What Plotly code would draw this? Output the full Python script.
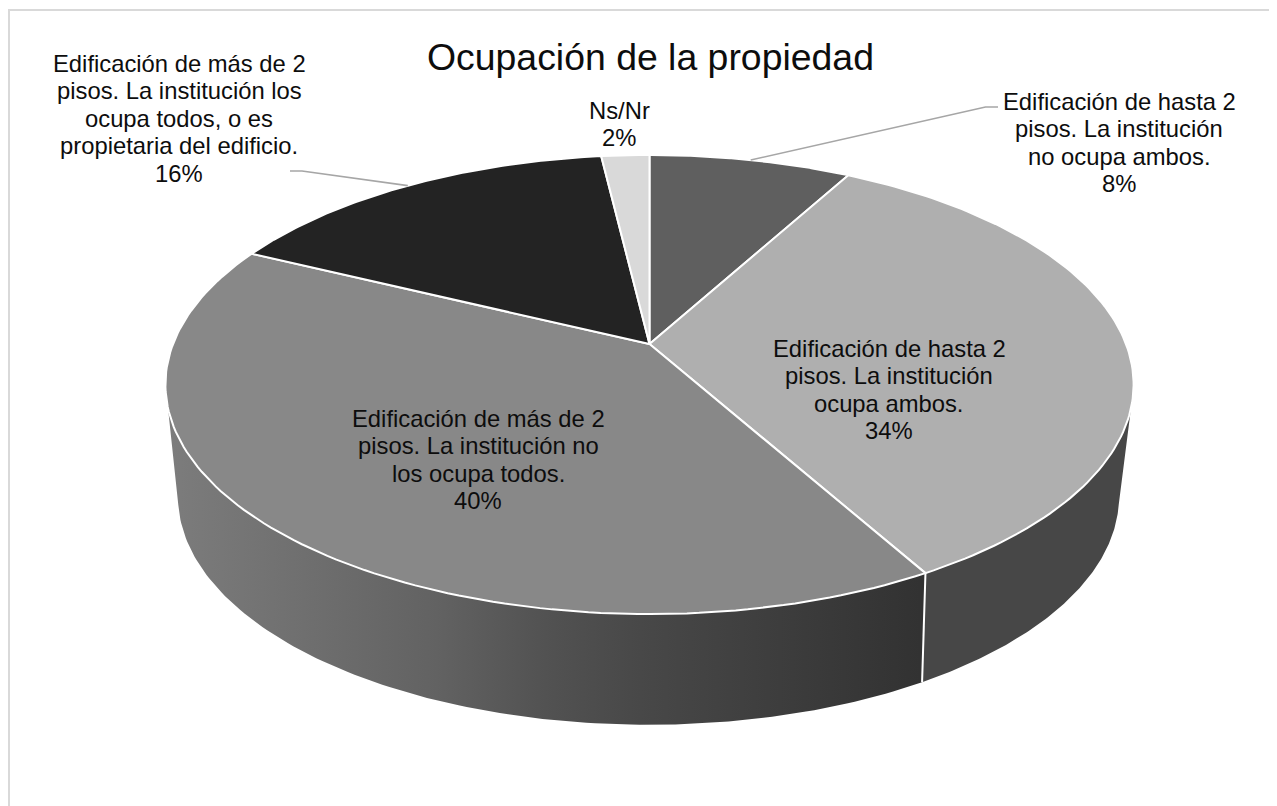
import numpy as np
import plotly.graph_objects as go

title = "Ocupación de la propiedad"
categories = [
    ["Edificación de hasta 2", "pisos. La institución", "no ocupa ambos."],
    ["Edificación de hasta 2", "pisos. La institución", "ocupa ambos."],
    ["Edificación de más de 2", "pisos. La institución no", "los ocupa todos."],
    ["Edificación de más de 2", "pisos. La institución los", "ocupa todos, o es", "propietaria del edificio."],
    ["Ns/Nr"],
]
shares = [8, 33.85, 40.35, 15.9, 1.9]
shown_percent = [8, 34, 40, 16, 2]
top_colors = ["#5f5f5f", "#afafaf", "#888888", "#232323", "#d9d9d9"]
label_first_line = [(1119, 101), (889, 348), (478, 418), (179, 63), (619, 110)]
font = "Liberation Sans"
FONT_SIZE = 23.8
LINE_STEP = 27.5
PAGE_MARGIN = 8  # the page body sits 8 px in from the window edge


def project(theta, a, b, k, cx, cy):
    """Perspective projection of a point of the pie rim on the page."""
    X, Y = np.sin(theta), np.cos(theta)
    d = 1 + k * Y
    return cx + a * X / d, cy - b * Y / d


TOP = dict(a=476.5, b=222.4, k=0.1765, cx=649.5, cy=344.0)
BOT = dict(a=461.0, b=219.0, k=0.2, cx=648.5, cy=451.0)
edges = np.cumsum([0] + shares) / sum(shares) * 2 * np.pi
fig = go.Figure()


def rim(t0, t1, geom, n=120):
    return project(np.linspace(t0, t1, n), **geom)


def wall(t0_top, t1_top, t0_bot, t1_bot, **style):
    xt, yt = rim(t0_top, t1_top, TOP)
    xb, yb = rim(t1_bot, t0_bot, BOT)
    fig.add_trace(go.Scatter(x=np.r_[xt, xb], y=np.r_[yt, yb], mode="lines", fill="toself",
                             line=dict(width=0, color="rgba(0,0,0,0)"), hoverinfo="skip",
                             showlegend=False, **style))


# side walls: the 34 % slice is flat, the 40 % slice has a horizontal gradient
wall(np.radians(106), edges[2], np.radians(103.6), edges[2], fillcolor="#474747")
wall(edges[2], np.radians(254), edges[2], np.radians(256.4),
     fillgradient=dict(type="horizontal", start=170, stop=920,
                       colorscale=[[0, "#7c7c7c"], [0.356, "#626262"], [0.5, "#525252"],
                                   [0.627, "#484848"], [1, "#323232"]]))

# white edge between the two walls
xe0, ye0 = project(edges[2], **TOP)
xe1, ye1 = project(edges[2], **BOT)
fig.add_trace(go.Scatter(x=[xe0, xe1], y=[ye0, ye1], mode="lines", line=dict(color="white", width=2),
                         hoverinfo="skip", showlegend=False))

# top faces
for i in range(len(shares)):
    xr, yr = rim(edges[i], edges[i + 1], TOP)
    fig.add_trace(go.Scatter(x=np.r_[TOP["cx"], xr, TOP["cx"]], y=np.r_[TOP["cy"], yr, TOP["cy"]],
                             mode="lines", fill="toself", fillcolor=top_colors[i],
                             line=dict(color="white", width=2), hoverinfo="skip", showlegend=False))

# leader lines from the middle of the outside slices
for i, elbow in [(0, [(985.5, 107), (998, 107)]), (3, [(302, 171), (290, 171)])]:
    xm, ym = project((edges[i] + edges[i + 1]) / 2, **TOP)
    fig.add_trace(go.Scatter(x=[xm] + [p[0] for p in elbow], y=[ym] + [p[1] for p in elbow],
                             mode="lines", line=dict(color="#a6a6a6", width=1.6),
                             hoverinfo="skip", showlegend=False))

annotations = [dict(x=650, y=57, text=title, showarrow=False, xref="x", yref="y",
                    xanchor="center", yanchor="middle",
                    font=dict(family=font, size=37.4, color="#0d0d0d"))]
for cat, val, (lx, ly) in zip(categories, shown_percent, label_first_line):
    for j, line in enumerate(cat + [f"{val}%"]):
        annotations.append(dict(x=lx, y=ly + j * LINE_STEP, text=line, showarrow=False, xref="x", yref="y",
                                xanchor="center", yanchor="middle", align="center",
                                font=dict(family=font, size=FONT_SIZE, color="#0d0d0d")))

fig.update_layout(
    width=1277 - PAGE_MARGIN, height=806 - PAGE_MARGIN, margin=dict(l=0, r=0, t=0, b=0), autosize=False,
    paper_bgcolor="white", plot_bgcolor="white", showlegend=False,
    xaxis=dict(range=[PAGE_MARGIN, 1277], visible=False, fixedrange=True),
    yaxis=dict(range=[806, PAGE_MARGIN], visible=False, fixedrange=True),
    annotations=annotations,
    shapes=[dict(type="path", path="M 9 806 L 9 10 L 1277 10", xref="x", yref="y",
                 line=dict(color="#d9d9d9", width=2), layer="below")],
)
fig.write_html("out.html", config=dict(displayModeBar=False))
